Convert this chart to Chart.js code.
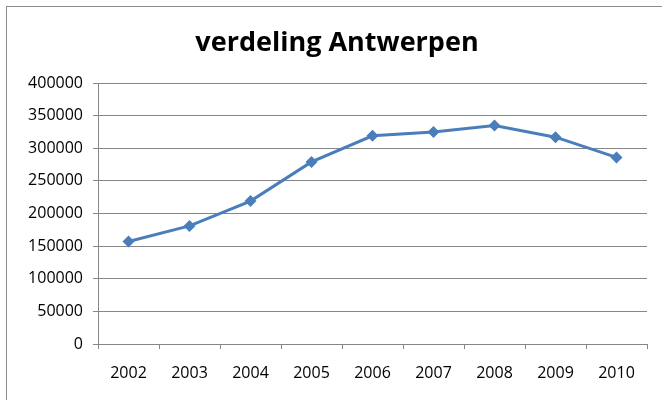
<!DOCTYPE html>
<html>
<head>
<meta charset="utf-8">
<script src="https://cdn.jsdelivr.net/npm/chart.js@4"></script>
<style>
  html, body { margin: 0; padding: 0; background: #fff; }
  #wrap { position: relative; width: 662px; height: 400px; }
  #frame {
    position: absolute; left: 6px; top: 6px; right: 0; bottom: 0;
    border-left: 1px solid #8c8c8c; border-top: 1px solid #8c8c8c;
  }
  canvas { position: absolute; left: 0; top: 0; }
</style>
</head>
<body>
<div id="wrap">
  <div id="frame"></div>
  <canvas id="chart" width="662" height="400"></canvas>
</div>
<script>
const years = ["2002", "2003", "2004", "2005", "2006", "2007", "2008", "2009", "2010"];
const antwerpen = [157000, 181000, 219000, 279000, 319000, 325000, 335000, 317000, 286000];
const yTicks = [0, 50000, 100000, 150000, 200000, 250000, 300000, 350000, 400000];
const titleText = "verdeling Antwerpen";

const blue = "#4a7ebb";
const gray = "#878787";
const font = "'Open Sans', sans-serif";

// title drawn by hand so it sits where the original one is (centred on the frame, not the plot)
const titlePlugin = {
  id: "frameTitle",
  afterDraw(chart) {
    const ctx = chart.ctx;
    ctx.save();
    ctx.fillStyle = "#000";
    ctx.font = "bold 27px " + font;
    ctx.textAlign = "center";
    ctx.textBaseline = "alphabetic";
    ctx.fillText(titleText, 337, 51);
    ctx.restore();
  },
};

new Chart(document.getElementById("chart").getContext("2d"), {
  type: "line",
  data: {
    labels: years,
    datasets: [{
      label: titleText,
      data: antwerpen,
      borderColor: blue,
      backgroundColor: blue,
      borderWidth: 3,
      pointStyle: "rectRot",
      pointRadius: 6,
      pointBorderWidth: 0,
      tension: 0,
    }],
  },
  options: {
    responsive: false,
    animation: false,
    layout: { padding: { left: 0, right: 15, top: 83, bottom: 0 } },
    plugins: {
      legend: { display: false },
      tooltip: { enabled: false },
      title: { display: false },
    },
    scales: {
      x: {
        offset: true,
        grid: { offset: true, drawOnChartArea: false, tickLength: 5, color: gray },
        border: { color: gray },
        ticks: { color: "#000", font: { family: font, size: 16 }, padding: 15 },
        afterFit: (s) => { s.height = 56; },
      },
      y: {
        min: 0,
        max: 400000,
        afterBuildTicks: (s) => { s.ticks = yTicks.map((v) => ({ value: v })); },
        grid: { color: gray, tickLength: 5 },
        border: { color: gray },
        ticks: {
          color: "#000",
          font: { family: font, size: 16 },
          padding: 10,
          callback: (v) => String(v),
        },
        afterFit: (s) => { s.width = 98; },
      },
    },
  },
  plugins: [titlePlugin],
});
</script>
</body>
</html>
